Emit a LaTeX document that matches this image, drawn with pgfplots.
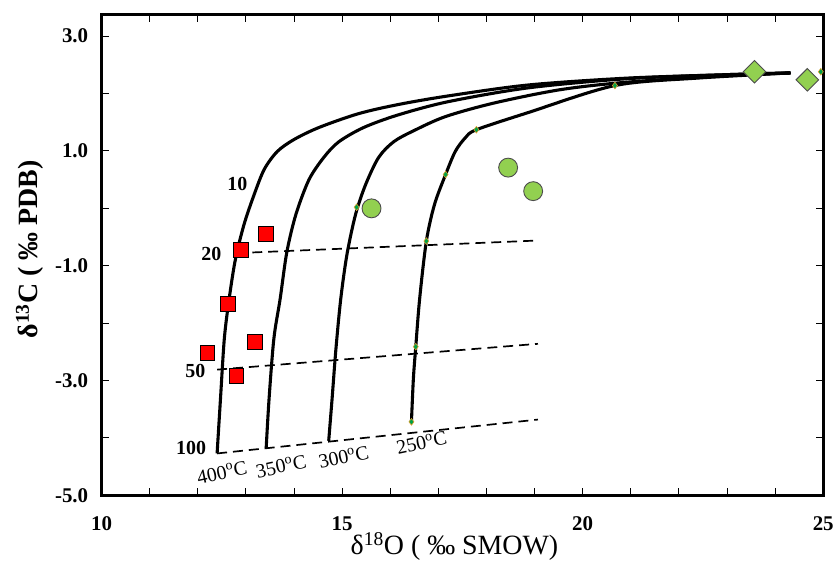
\documentclass[border=0pt]{standalone}
\usepackage{fontspec}
\setmainfont{Liberation Serif}
\usepackage{pgfplots}
\pgfplotsset{compat=1.18}
\definecolor{ltgreen}{RGB}{146,208,80}
\definecolor{dkgreen}{RGB}{0,160,70}
\definecolor{myorange}{RGB}{240,160,40}
\begin{document}
\begin{tikzpicture}
\begin{axis}[
  scale only axis,
  width=724pt, height=482pt,
  at={(0pt,0pt)}, anchor=south west,
  xmin=10, xmax=25, ymin=-5, ymax=3.37,
  axis line style={line width=3pt},
  xtick={10,15,20,25}, xticklabels={10,15,20,25},
  minor xtick={11,12,13,14,16,17,18,19,21,22,23,24},
  ytick={-5,-3,-1,1,3}, yticklabels={-5.0,-3.0,-1.0,1.0,3.0},
  minor ytick={-4,-2,0,2},
  tick align=inside,
  major tick length=7pt, minor tick length=7pt,
  tick style={line width=1pt, black},
  ticklabel style={font=\fontsize{21}{23}\selectfont\bfseries},
  xticklabel style={yshift=-18pt},
  yticklabel style={xshift=-10pt},
  xlabel={\fontsize{28}{30}\selectfont δ\textsuperscript{18}O ( ‰ SMOW)},
  ylabel={\fontsize{28}{30}\selectfont\bfseries δ\textsuperscript{13}C ( ‰ PDB)},
  xlabel style={at={(axis description cs:0.489,-0.106)}, anchor=center},
  ylabel style={at={(axis description cs:-0.0994,0.512)}, anchor=center},
  clip mode=individual,
]
% 400 C
\addplot[black, line width=3.1pt, smooth, tension=0.5] coordinates {
(12.40,-4.27) (12.47,-3.32) (12.55,-2.27) (12.65,-1.58) (12.78,-0.89)
(12.96,-0.28) (13.17,0.24) (13.38,0.68) (13.65,0.99) (14.00,1.20)
(14.52,1.41) (15.34,1.65) (16.17,1.81) (17.21,1.96) (18.87,2.15)
(20.94,2.27) (23.01,2.33) (24.32,2.36)};
% 350 C
\addplot[black, line width=3.1pt, smooth, tension=0.5] coordinates {
(13.42,-4.18) (13.48,-3.32) (13.58,-2.27) (13.71,-1.58) (13.85,-0.76)
(14.04,-0.10) (14.31,0.50) (14.62,0.89) (14.93,1.16) (15.45,1.41)
(16.17,1.63) (17.21,1.86) (18.87,2.10) (20.94,2.26) (23.01,2.33) (24.32,2.36)};
% 300 C
\addplot[black, line width=3.1pt, smooth, tension=0.5] coordinates {
(14.72,-4.05) (14.79,-3.32) (14.87,-2.45) (14.97,-1.58) (15.10,-0.80)
(15.28,-0.10) (15.49,0.42) (15.76,0.89) (16.07,1.16) (16.48,1.35)
(17.15,1.60) (18.18,1.84) (19.55,2.07) (20.94,2.20) (23.01,2.31) (24.32,2.36)};
% 250 C
\addplot[black, line width=3.1pt, smooth, tension=0.5] coordinates {
(16.44,-3.72) (16.48,-2.97) (16.53,-2.41) (16.61,-1.58) (16.75,-0.57)
(16.92,0.07) (17.15,0.59) (17.35,0.99) (17.56,1.23) (17.79,1.37)
(18.87,1.67) (20.67,2.14) (22.39,2.27) (24.32,2.36)};
% dashed mixing lines
\addplot[black, line width=1.7pt, dash pattern=on 10pt off 6pt] coordinates {(12.80,-0.78) (19.07,-0.56)};
\addplot[black, line width=1.7pt, dash pattern=on 10pt off 6pt] coordinates {(12.40,-2.81) (19.07,-2.36)};
\addplot[black, line width=1.7pt, dash pattern=on 10pt off 6pt] coordinates {(12.40,-4.27) (19.07,-3.68)};
% small markers
\addplot[only marks, mark=diamond*, mark size=3.4pt, mark options={fill=dkgreen, draw=myorange, line width=0.5pt}] coordinates {
(16.44,-3.72) (16.53,-2.41) (16.75,-0.57) (17.15,0.59) (17.79,1.37) (20.67,2.14) (24.95,2.38) (15.30,0.02)};
% red squares
\addplot[only marks, mark=square*, mark size=7.3pt, mark options={fill=red, draw=black, line width=1pt}] coordinates {
(12.90,-0.73) (13.42,-0.45) (12.63,-1.67) (12.20,-2.52) (13.19,-2.33) (12.80,-2.92)};
% green circles
\addplot[only marks, mark=*, mark size=9.5pt, mark options={fill=ltgreen, draw=black!70, line width=0.9pt}] coordinates {
(15.61,0.00) (18.45,0.71) (18.97,0.30)};
% green diamonds
\addplot[only marks, mark=square*, mark size=8pt, mark options={rotate=45, fill=ltgreen, draw=black!70, line width=0.9pt}] coordinates {
(23.57,2.38) (24.67,2.24)};
% labels
\node[font=\fontsize{20}{22}\selectfont\bfseries] at (axis cs:12.82,0.42) {10};
\node[font=\fontsize{20}{22}\selectfont\bfseries] at (axis cs:12.28,-0.80) {20};
\node[font=\fontsize{20}{22}\selectfont\bfseries] at (axis cs:11.95,-2.83) {50};
\node[font=\fontsize{20}{22}\selectfont\bfseries] at (axis cs:11.86,-4.18) {100};
\node[font=\fontsize{20}{22}\selectfont, rotate=12] at (axis cs:12.50,-4.60) {400\textsuperscript{o}C};
\node[font=\fontsize{20}{22}\selectfont, rotate=12] at (axis cs:13.73,-4.49) {350\textsuperscript{o}C};
\node[font=\fontsize{20}{22}\selectfont, rotate=12] at (axis cs:15.03,-4.33) {300\textsuperscript{o}C};
\node[font=\fontsize{20}{22}\selectfont, rotate=12] at (axis cs:16.65,-4.08) {250\textsuperscript{o}C};
\end{axis}
\path (-102pt,-68pt) rectangle (735pt,497pt);
\end{tikzpicture}
\end{document}
